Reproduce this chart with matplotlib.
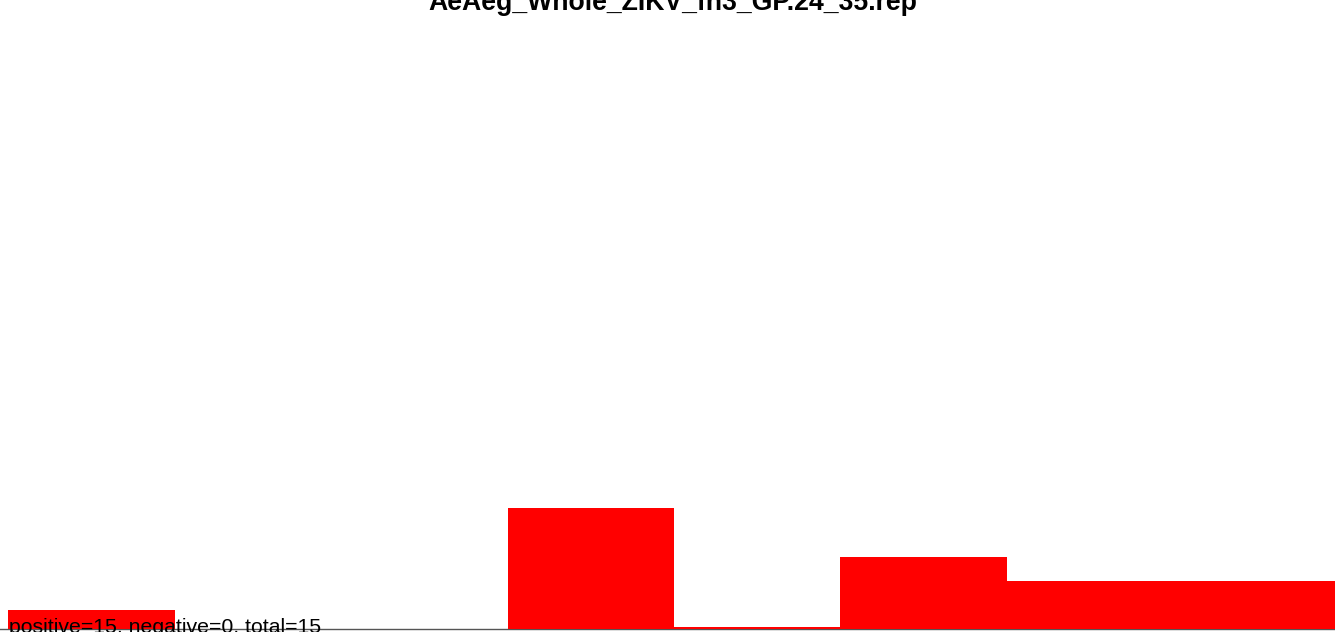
import matplotlib
matplotlib.use("Agg")
from matplotlib import pyplot as plt

title = "AeAeg_Whole_ZIKV_fn3_GP.24_35.rep"
summary = "positive=15, negative=0, total=15"

# 8 bins, relative height of each
bins = [0, 1, 2, 3, 4, 5, 6, 7]
heights = [0.154, 0.0, 0.0, 1.0, 0.014, 0.593, 0.394, 0.394]

plt.rcParams['font.family'] = ['Liberation Sans', 'DejaVu Sans']

fig = plt.figure(figsize=(13.35, 6.32), dpi=100)
ax = fig.add_axes([0, 0, 1, 1])

ax.bar(bins, heights, width=1.0, align='edge', color='#ff0000', linewidth=0, zorder=2)
ax.axhline(0, color='#555555', lw=1.0, zorder=1)

ax.set_xlim(-0.051, 7.972)
ax.set_ylim(-0.029, 5.216)
ax.axis('off')

fig.text(0.504, 1 - 10 / 632, title, ha='center', va='baseline',
         fontsize=19.2, fontweight='bold')
fig.text(9 / 1335, -1 / 632, summary, ha='left', va='baseline',
         fontsize=15.3, zorder=5)

fig.savefig("out.png", dpi=100)
